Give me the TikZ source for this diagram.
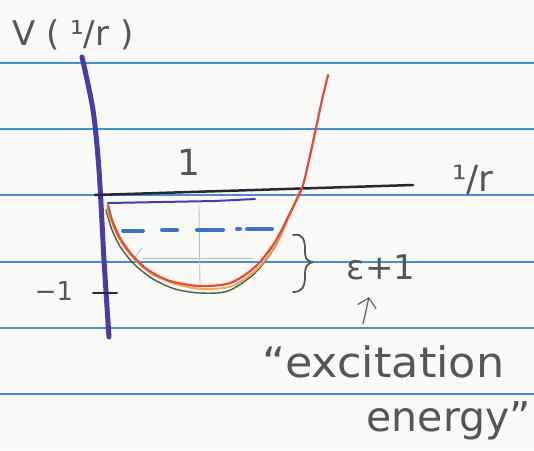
\documentclass[tikz,border=0pt]{standalone}
\usepackage{fontspec}
\setmainfont{DejaVu Sans}
\newfontfamily\widehand[FakeStretch=1.06]{DejaVu Sans}
\usetikzlibrary{arrows.meta}
\definecolor{rulec}{RGB}{70,140,215}
\definecolor{ink}{RGB}{85,85,90}
\definecolor{axisv}{RGB}{75,60,165}
\definecolor{axish}{RGB}{40,40,50}
\definecolor{redc}{RGB}{232,72,55}
\definecolor{orangec}{RGB}{242,170,80}
\definecolor{greenc}{RGB}{70,95,70}
\definecolor{dashblue}{RGB}{60,115,200}
\definecolor{paper}{RGB}{249,249,248}
\begin{document}
\begin{tikzpicture}[x=1pt,y=-1pt,line cap=round,line join=round,
  ruleline/.style={rulec,line width=1.6pt},
  hand/.style={ink,inner sep=0pt,font=\fontsize{#1}{#1}\selectfont},
  curvered/.style={redc,line width=2.2pt},
  curveorange/.style={orangec,line width=1.8pt},
  curvegreen/.style={greenc,line width=1.4pt},
  faint/.style={gray!55,line width=0.8pt},
  arrowink/.style={gray!80!black,line width=1.3pt,-{Straight Barb[length=9pt,width=19pt]}}]
\useasboundingbox (0,0) rectangle (534,450);
\fill[paper] (0,0) rectangle (534,450);
% ruled lines
\foreach \yy in {63,129,195,262,328,394}
  \draw[ruleline] (0,\yy) -- (534,\yy);
% faint pencil guides
\draw[faint] (199,205) -- (200,287);
\draw[faint] (143,258) -- (253,258);
\draw[faint] (135,257) -- (142,248);
% axes
\draw[axisv,line width=5pt] plot[smooth] coordinates {(82,57) (93,110) (99,170) (104,260) (109,337)};
\draw[axish,line width=2.5pt] (95,195) -- (413,185);
\draw[axisv,line width=2pt] (108,203) -- (215,201) -- (255,199);
\draw[axish,line width=2pt] (93,293) -- (117,293);
% curves
\draw[curvegreen] plot[smooth] coordinates {(106,210) (112,230) (121,248) (135,265) (153,279) (175,289) (200,293) (228,291) (255,273) (276,245) (291,212) (300,190)};
\draw[curveorange] plot[smooth] coordinates {(107,208) (113,226) (122,244) (136,261) (152,274) (175,284) (203,289) (232,286) (257,269) (276,244) (291,212) (300,190)};
\draw[curvered] plot[smooth] coordinates {(108,205) (112,220) (120,238) (132,255) (148,270) (170,281) (200,286) (230,283) (255,267) (275,242) (290,213) (302,188) (309,160) (316,128) (322,100) (328,75)};
% dashed level
\draw[dashblue,line width=4pt] (123,231) -- (143,231) (162,230) -- (177,230) (197,230) -- (223,230) (237,229) -- (240,229) (247,229) -- (272,229);
% brace
\draw[ink,line width=1.8pt] (293,235) .. controls (303,233) and (305,240) .. (305,250) .. controls (305,258) and (306,261) .. (313,262) .. controls (306,264) and (305,267) .. (305,276) .. controls (305,287) and (302,292) .. (293,292);
% labels
\node[hand=34,anchor=base west] (vlab) at (12,45) {V ( ¹/r )};
\node[hand=36] (rlab) at (473,180) {¹/r};
\node[hand=36,anchor=base] (one) at (189,175) {1};
\node[hand=26,anchor=base] (mone) at (54,300) {−1};
\node[hand=34,anchor=base] (eps) at (381,279) {ε+1};
\node[hand=42,anchor=base west] (exc) at (262,377) {\widehand “excitation};
\node[hand=41,anchor=base east] (ene) at (531,431) {energy”};
\coordinate (atail) at (363,324);
\coordinate (atip) at (369,297);
\draw[arrowink] (atail) -- (atip);
\end{tikzpicture}
\end{document}
